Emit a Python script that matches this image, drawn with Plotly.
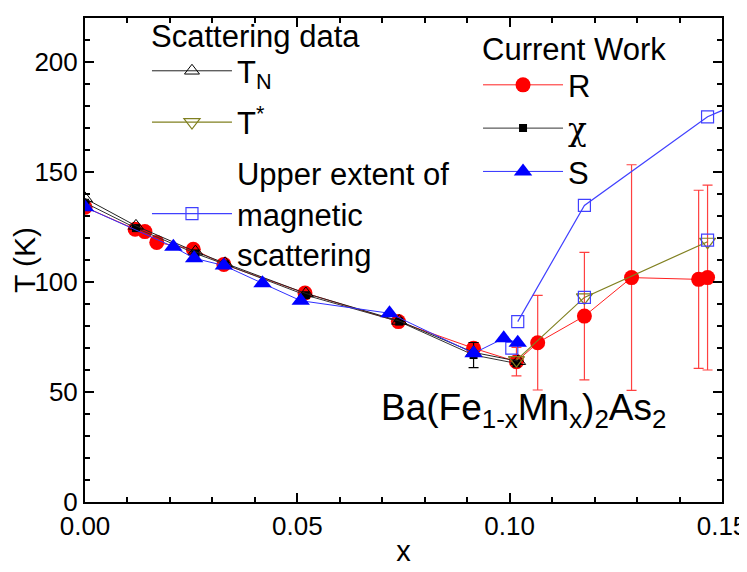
import plotly.graph_objects as go

# scattering data
x_tn = [0.0, 0.012, 0.026, 0.033, 0.052, 0.074, 0.0915, 0.102]
t_tn = [138, 125.5, 113.8, 108.5, 94.8, 82.3, 68, 64]

x_tstar = [0.1016, 0.1176, 0.1466]
t_tstar = [64.5, 93, 118.3]

x_upper = [0.1019, 0.1176, 0.1466, 0.156]
t_upper = [82, 134.8, 175.1, 183]

x_sq_extra = [0.1005, 0.1176, 0.1466]
t_sq_extra = [69.9, 93, 119]

# current work
x_r = [0.0, 0.0118, 0.0141, 0.0169, 0.0255, 0.0327, 0.0518, 0.0738, 0.0915,
       0.1016, 0.1066, 0.1176, 0.1287, 0.1445, 0.1466]
t_r = [134, 124, 122.9, 118, 114.9, 108, 95, 82, 69.9, 63.8, 72.4, 84.5, 102,
       101.2, 102]
err_r = [0, 0, 0, 0, 0, 0, 0, 0, 2.5, 6.5, 21.5, 29, 51.3, 40.5, 42]

x_chi = [0.0, 0.012, 0.026, 0.033, 0.052, 0.074, 0.0915, 0.1016]
t_chi = [136, 124.5, 113, 108, 94, 82, 66.8, 63]
err_chi = [0, 0, 0, 0, 0, 0, 5.7, 0]

x_s = [0.0, 0.0208, 0.0257, 0.0327, 0.0418, 0.0508, 0.0717, 0.0915, 0.0986,
       0.1019]
t_s = [134, 116, 110.8, 107.5, 99.4, 91.5, 85.8, 67.6, 74.4, 72.4]

FONT = "Liberation Sans"

fig = go.Figure()

fig.add_trace(go.Scatter(x=x_r, y=t_r, name="R", legend="legend2",
                         mode="lines+markers",
                         line=dict(color="#ff2020", width=1),
                         marker=dict(symbol="circle", size=15, color="#ff0000"),
                         error_y=dict(type="data", array=err_r, color="#ff4040",
                                      thickness=1.2, width=5),
                         legendgroup="r"))
fig.add_trace(go.Scatter(x=x_chi, y=t_chi,
                         name="<span style=\"font-family:DejaVu Serif\">\u03c7</span>",
                         legend="legend2",
                         mode="lines+markers",
                         line=dict(color="#333333", width=1),
                         marker=dict(symbol="square", size=8, color="black"),
                         error_y=dict(type="data", array=err_chi, color="black",
                                      thickness=1.2, width=5),
                         legendgroup="chi"))
fig.add_trace(go.Scatter(x=x_tn, y=t_tn, name="T<sub>N</sub>",
                         mode="lines+markers",
                         line=dict(color="#222222", width=1),
                         marker=dict(symbol="triangle-up-open", size=13,
                                     color="black", line=dict(width=1)),
                         legendgroup="tn"))
fig.add_trace(go.Scatter(x=x_tstar, y=t_tstar, name="T<sup>*</sup>",
                         mode="lines+markers",
                         line=dict(color="#808020", width=1.2),
                         marker=dict(symbol="triangle-down-open", size=14,
                                     color="#808020", line=dict(width=1.2)),
                         legendgroup="ts"))
fig.add_trace(go.Scatter(x=x_upper, y=t_upper,
                         name="Upper extent of<br>magnetic<br>scattering",
                         mode="lines+markers",
                         line=dict(color="#4040ff", width=1.2),
                         marker=dict(symbol="square-open", size=12,
                                     color="#4040ff", line=dict(width=1.2)),
                         legendgroup="up"))
fig.add_trace(go.Scatter(x=x_sq_extra, y=t_sq_extra, mode="markers",
                         showlegend=False,
                         marker=dict(symbol="square-open", size=12,
                                     color="#4040ff", line=dict(width=1.2))))
fig.add_trace(go.Scatter(x=x_s, y=t_s, name="S", legend="legend2",
                         mode="lines+markers",
                         line=dict(color="#3030ff", width=1),
                         marker=dict(symbol="triangle-up", size=16, color="#0000ff"),
                         legendgroup="s"))

fig.add_annotation(x=0.689, y=0.19, xref="paper", yref="paper",
                   xanchor="center", yanchor="middle",
                   text="Ba(Fe<sub>1-x</sub>Mn<sub>x</sub>)<sub>2</sub>As<sub>2</sub>",
                   showarrow=False, font=dict(size=37, color="black", family=FONT))

# legend headings
fig.add_annotation(x=0.1, y=0.961, xref="paper", yref="paper",
                   xanchor="left", yanchor="middle", showarrow=False,
                   text="Scattering data", font=dict(size=31, color="black"))
fig.add_annotation(x=0.62, y=0.934, xref="paper", yref="paper",
                   xanchor="left", yanchor="middle", showarrow=False,
                   text="Current Work", font=dict(size=31, color="black"))

axis_common = dict(showline=True, linecolor="black", linewidth=2, mirror="ticks",
                   ticks="inside", ticklen=9, tickwidth=1.5, tickcolor="black",
                   showgrid=False, zeroline=False, automargin=False,
                   ticklabeloverflow="allow",
                   tickfont=dict(size=26, color="black", family=FONT))

fig.update_layout(
    width=739, height=564,
    plot_bgcolor="white", paper_bgcolor="white",
    margin=dict(l=77, r=25, t=10, b=70),
    font=dict(family=FONT, size=31, color="black"),
    xaxis=dict(range=[0, 0.15], tickvals=[0, 0.05, 0.10, 0.15],
               ticktext=["0.00", "0.05", "0.10", "0.15"],
               minor=dict(dtick=0.01, ticks="inside", ticklen=5, tickcolor="black"),
               title=dict(text="x", standoff=0, font=dict(size=29)),
               **axis_common),
    yaxis=dict(range=[0, 220], tickvals=[0, 50, 100, 150, 200],
               minor=dict(dtick=10, ticks="inside", ticklen=5, tickcolor="black"),
               title=dict(text="T (K)", standoff=12, font=dict(size=30)),
               **axis_common),
    legend=dict(x=0.0973, y=0.946, xanchor="left", yanchor="top",
                bgcolor="rgba(0,0,0,0)", itemwidth=80, tracegroupgap=8,
                font=dict(size=31)),
    legend2=dict(x=0.617, y=0.917, xanchor="left", yanchor="top",
                 bgcolor="rgba(0,0,0,0)", itemwidth=80, tracegroupgap=0,
                 font=dict(size=31)),
)

fig.write_html("out.html")
